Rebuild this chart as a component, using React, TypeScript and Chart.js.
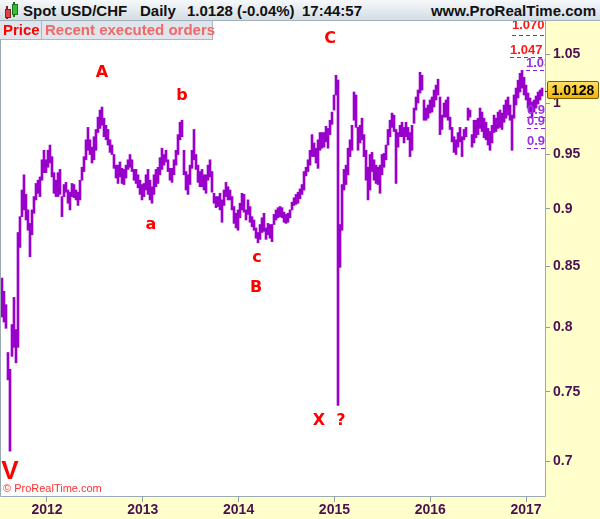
import React, { useEffect, useRef } from "react";
import { Chart, registerables } from "chart.js";

Chart.register(...registerables);

// Weekly high/low ranges of spot USD/CHF (mid-2011 .. Feb 2017)
const START_YEAR = 2011.5303;
const WEEK_STEP = 0.020877;

const lows = [
  0.808, 0.804, 0.799, 0.759, 0.707, 0.777, 0.784, 0.772, 0.784, 0.866,
  0.893, 0.899, 0.890, 0.881, 0.858, 0.877, 0.896, 0.908, 0.914, 0.911,
  0.926, 0.933, 0.933, 0.938, 0.942, 0.929, 0.914, 0.911, 0.911, 0.913,
  0.893, 0.911, 0.915, 0.905, 0.899, 0.911, 0.910, 0.908, 0.903, 0.908,
  0.926, 0.934, 0.945, 0.954, 0.950, 0.942, 0.945, 0.954, 0.971, 0.975,
  0.978, 0.967, 0.964, 0.959, 0.952, 0.950, 0.937, 0.928, 0.923, 0.929,
  0.923, 0.922, 0.928, 0.936, 0.938, 0.934, 0.926, 0.923, 0.919, 0.913,
  0.908, 0.911, 0.917, 0.913, 0.908, 0.905, 0.913, 0.920, 0.923, 0.931,
  0.936, 0.940, 0.943, 0.934, 0.926, 0.924, 0.931, 0.940, 0.950, 0.964,
  0.967, 0.931, 0.917, 0.913, 0.922, 0.937, 0.945, 0.936, 0.924, 0.920,
  0.920, 0.917, 0.914, 0.926, 0.929, 0.915, 0.905, 0.901, 0.902, 0.899,
  0.888, 0.903, 0.911, 0.908, 0.908, 0.899, 0.887, 0.883, 0.881, 0.892,
  0.899, 0.897, 0.890, 0.895, 0.888, 0.884, 0.881, 0.874, 0.870, 0.873,
  0.879, 0.880, 0.873, 0.877, 0.874, 0.871, 0.886, 0.890, 0.892, 0.893,
  0.892, 0.888, 0.887, 0.888, 0.892, 0.899, 0.903, 0.904, 0.905, 0.909,
  0.913, 0.917, 0.930, 0.934, 0.940, 0.948, 0.948, 0.942, 0.937, 0.954,
  0.956, 0.957, 0.962, 0.956, 0.969, 0.979, 0.993, 1.008, 0.740, 0.849,
  0.881, 0.917, 0.922, 0.931, 0.948, 0.954, 0.983, 0.976, 0.954, 0.961,
  0.964, 0.948, 0.926, 0.908, 0.917, 0.934, 0.926, 0.923, 0.922, 0.914,
  0.931, 0.938, 0.945, 0.959, 0.967, 0.976, 0.972, 0.923, 0.957, 0.967,
  0.967, 0.961, 0.967, 0.964, 0.948, 0.954, 0.980, 0.993, 1.000, 1.010,
  1.013, 0.983, 0.983, 0.985, 0.990, 0.991, 0.996, 1.003, 1.008, 0.969,
  0.974, 0.986, 0.986, 0.983, 0.974, 0.962, 0.952, 0.950, 0.957, 0.962,
  0.948, 0.964, 0.967, 0.983, 0.986, 0.957, 0.961, 0.966, 0.969, 0.975,
  0.972, 0.966, 0.964, 0.959, 0.954, 0.961, 0.971, 0.972, 0.975, 0.976,
  0.974, 0.981, 0.985, 0.988, 0.983, 0.954, 0.985, 0.998, 1.005, 1.011,
  1.015, 1.008, 1.003, 0.995, 0.991, 0.985, 0.991, 0.995, 0.999, 1.003, 1.007,
];

const highs = [
  0.840, 0.829, 0.818, 0.780, 0.767, 0.802, 0.824, 0.798, 0.879, 0.893,
  0.917, 0.931, 0.913, 0.899, 0.887, 0.899, 0.911, 0.923, 0.926, 0.929,
  0.945, 0.954, 0.945, 0.954, 0.959, 0.948, 0.933, 0.926, 0.933, 0.936,
  0.911, 0.922, 0.924, 0.917, 0.915, 0.923, 0.922, 0.917, 0.915, 0.926,
  0.938, 0.948, 0.964, 0.976, 0.964, 0.957, 0.967, 0.974, 0.986, 0.993,
  0.996, 0.985, 0.978, 0.974, 0.964, 0.959, 0.950, 0.940, 0.940, 0.943,
  0.937, 0.936, 0.940, 0.945, 0.950, 0.945, 0.936, 0.936, 0.931, 0.926,
  0.922, 0.923, 0.931, 0.936, 0.926, 0.920, 0.931, 0.936, 0.938, 0.947,
  0.956, 0.950, 0.954, 0.945, 0.937, 0.937, 0.945, 0.954, 0.969, 0.981,
  0.983, 0.954, 0.934, 0.931, 0.940, 0.954, 0.974, 0.950, 0.940, 0.934,
  0.936, 0.931, 0.931, 0.940, 0.945, 0.934, 0.914, 0.911, 0.911, 0.914,
  0.908, 0.917, 0.924, 0.920, 0.917, 0.911, 0.902, 0.896, 0.899, 0.905,
  0.914, 0.913, 0.899, 0.908, 0.902, 0.893, 0.890, 0.883, 0.879, 0.886,
  0.892, 0.896, 0.883, 0.887, 0.886, 0.886, 0.895, 0.899, 0.901, 0.902,
  0.901, 0.897, 0.895, 0.896, 0.899, 0.906, 0.910, 0.913, 0.915, 0.918,
  0.922, 0.934, 0.938, 0.945, 0.954, 0.969, 0.961, 0.956, 0.964, 0.971,
  0.971, 0.971, 0.977, 0.975, 0.983, 0.991, 1.008, 1.028, 1.023, 0.886,
  0.922, 0.936, 0.940, 0.956, 0.964, 0.978, 1.011, 1.008, 0.976, 0.978,
  0.985, 0.969, 0.954, 0.938, 0.950, 0.952, 0.945, 0.940, 0.938, 0.940,
  0.950, 0.951, 0.959, 0.974, 0.983, 0.990, 0.988, 0.974, 0.971, 0.978,
  0.981, 0.976, 0.981, 0.976, 0.971, 0.978, 0.995, 1.006, 1.013, 1.031,
  1.028, 1.003, 0.995, 0.998, 1.003, 1.006, 1.013, 1.018, 1.024, 1.006,
  0.988, 1.000, 1.003, 1.006, 0.986, 0.976, 0.967, 0.964, 0.971, 0.976,
  0.967, 0.974, 0.976, 0.995, 0.993, 0.969, 0.983, 0.983, 0.985, 0.995,
  0.991, 0.985, 0.981, 0.975, 0.972, 0.978, 0.988, 0.985, 0.991, 0.993,
  0.990, 0.998, 1.003, 1.006, 0.998, 0.988, 1.008, 1.015, 1.023, 1.030,
  1.033, 1.026, 1.018, 1.010, 1.005, 1.001, 1.003, 1.007, 1.011, 1.013, 1.015,
];

const yearTicks = [2012, 2013, 2014, 2015, 2016, 2017];
const priceTicks = [0.7, 0.75, 0.8, 0.85, 0.9, 0.95, 1, 1.05];
const orderLevels = [1.07, 1.047, 1.033, 0.986, 0.975, 0.956];
const orderLabels = ["1.070", "1.047", "1.033", "0.986", "0.975", "0.956"];
const lastPrice = "1.0128";

const X_MIN = 2011.52;
const X_MAX = 2017.198;
const Y_MIN = 0.6761;
const Y_MAX = 1.0851;

const PURPLE = "#9900cc";
const AXIS_TEXT = "#4e0f4e";
const FONT = '"Liberation Sans", Arial, sans-serif';

const levelStyle = [
  { span: 33, color: "#ff1a1a", lift: 4 },
  { span: 35, color: "#ff1a1a", lift: 1 },
  { span: 19, color: "#9933dd", lift: 1 },
  { span: 18, color: "#9933dd", lift: 1 },
  { span: 18, color: "#9933dd", lift: 1 },
  { span: 18, color: "#9933dd", lift: 1 },
];

const bgPlugin = {
  id: "bgPlugin",
  beforeDraw(chart: any) {
    const { ctx, chartArea, width, height } = chart;
    ctx.save();
    ctx.fillStyle = "#ffffcc";
    ctx.fillRect(0, 0, width, height);
    ctx.fillStyle = "#ffffff";
    ctx.fillRect(chartArea.left, chartArea.top, chartArea.right - chartArea.left, chartArea.bottom - chartArea.top);
    ctx.restore();
  },
  afterDatasetsDraw(chart: any) {
    const { ctx, chartArea, scales } = chart;
    const y = scales.y;
    ctx.save();
    ctx.beginPath();
    ctx.rect(chartArea.left, chartArea.top, chartArea.right - chartArea.left, chartArea.bottom - chartArea.top);
    ctx.clip();
    orderLevels.forEach((v, i) => {
      const py = Math.round(y.getPixelForValue(v)) + 0.5;
      const x0 = chartArea.right - levelStyle[i].span;
      ctx.setLineDash([4, 3]);
      ctx.strokeStyle = "#8a1fd6";
      ctx.lineWidth = 1;
      ctx.beginPath();
      ctx.moveTo(x0, py);
      ctx.lineTo(chartArea.right, py);
      ctx.stroke();
      ctx.setLineDash([]);
      ctx.fillStyle = levelStyle[i].color;
      ctx.font = `bold 13px ${FONT}`;
      ctx.textBaseline = "bottom";
      ctx.textAlign = "left";
      ctx.fillText(orderLabels[i], x0, py - levelStyle[i].lift);
    });
    ctx.restore();
    // frame
    ctx.save();
    ctx.strokeStyle = "#9aaab4";
    ctx.lineWidth = 1;
    ctx.beginPath();
    ctx.moveTo(0.5, chartArea.top);
    ctx.lineTo(0.5, chartArea.bottom + 0.5);
    ctx.lineTo(chartArea.right + 0.5, chartArea.bottom + 0.5);
    ctx.lineTo(chartArea.right + 0.5, chartArea.top);
    ctx.stroke();
    ctx.restore();
  },
};

function Label(props: { x: number; y: number; text: string; size?: number; family?: string }) {
  return (
    <div
      style={{
        position: "absolute",
        left: props.x,
        top: props.y,
        transform: "translate(-50%, -50%)",
        color: "#ff0000",
        fontWeight: "bold",
        fontSize: props.size || 16,
        fontFamily: props.family || '"DejaVu Sans", sans-serif',
        lineHeight: 1,
        whiteSpace: "nowrap",
      }}
    >
      {props.text}
    </div>
  );
}

export default function App() {
  const canvasRef = useRef<HTMLCanvasElement | null>(null);

  useEffect(() => {
    if (!canvasRef.current) return;
    const points = lows.map((lo, i) => ({ x: START_YEAR + i * WEEK_STEP, y: [lo, highs[i]] }));
    const chart = new Chart(canvasRef.current, {
      type: "bar",
      data: {
        datasets: [
          {
            data: points as any,
            backgroundColor: PURPLE,
            borderWidth: 0,
            barThickness: 2,
          },
        ],
      },
      options: {
        animation: false,
        responsive: false,
        events: [],
        layout: { padding: { left: 1, top: 21, right: 0, bottom: 0 } },
        plugins: { legend: { display: false }, tooltip: { enabled: false } },
        scales: {
          x: {
            type: "linear",
            min: X_MIN,
            max: X_MAX,
            offset: false,
            grid: { drawOnChartArea: false, drawTicks: true, tickLength: 6, color: "#8c9ca6", offset: false },
            border: { display: false },
            afterBuildTicks: (scale: any) => {
              scale.ticks = yearTicks.map((v) => ({ value: v }));
            },
            afterFit: (scale: any) => {
              scale.height = 23;
            },
            ticks: {
              autoSkip: false,
              maxRotation: 0,
              padding: 0,
              color: AXIS_TEXT,
              font: { family: FONT, size: 14, weight: "bold" },
              callback: (v: any) => String(v),
            },
          },
          y: {
            type: "logarithmic",
            position: "right",
            min: Y_MIN,
            max: Y_MAX,
            grid: { drawOnChartArea: false, drawTicks: true, tickLength: 5, color: "#8c9ca6" },
            border: { display: false },
            afterBuildTicks: (scale: any) => {
              scale.ticks = priceTicks.map((v) => ({ value: v }));
            },
            afterFit: (scale: any) => {
              scale.width = 55;
            },
            ticks: {
              autoSkip: false,
              padding: 3,
              color: AXIS_TEXT,
              font: { family: FONT, size: 14, weight: "bold" },
              callback: (v: any) => String(Number(v)),
            },
          },
        },
      } as any,
      plugins: [bgPlugin],
    });
    return () => chart.destroy();
  }, []);

  const headerText: React.CSSProperties = {
    position: "absolute",
    top: 2,
    fontFamily: FONT,
    fontWeight: "bold",
    fontSize: 15,
    color: "#111",
    whiteSpace: "nowrap",
    lineHeight: "17px",
  };

  return (
    <div style={{ position: "fixed", left: 0, top: 0, width: 600, height: 519, overflow: "hidden", background: "#fff" }}>
      <canvas ref={canvasRef} width={600} height={519} style={{ position: "absolute", left: 0, top: 0, width: 600, height: 519 }} />
      {/* header */}
      <div
        style={{
          position: "absolute",
          left: 0,
          top: 0,
          width: 600,
          height: 20,
          background: "linear-gradient(#f6f9fb, #d3dde3)",
          borderBottom: "1px solid #9fb0ba",
        }}
      >
        <div style={{ position: "absolute", left: 6, top: 6, width: 2, height: 13, background: "#802020" }} />
        <div style={{ position: "absolute", left: 5, top: 9, width: 4, height: 7, background: "#e04040", border: "1px solid #802020" }} />
        <div style={{ position: "absolute", left: 13, top: 2, width: 2, height: 15, background: "#207020" }} />
        <div style={{ position: "absolute", left: 12, top: 4, width: 4, height: 9, background: "#30c030", border: "1px solid #207020" }} />
        <span style={{ ...headerText, left: 23 }}>Spot USD/CHF</span>
        <span style={{ ...headerText, left: 140 }}>Daily</span>
        <span style={{ ...headerText, left: 187 }}>1.0128 (-0.04%)</span>
        <span style={{ ...headerText, left: 302 }}>17:44:57</span>
        <span style={{ ...headerText, right: 4 }}>www.ProRealTime.com</span>
      </div>
      {/* tabs */}
      <div
        style={{
          position: "absolute",
          left: 0,
          top: 21,
          width: 212,
          height: 18,
          background: "#dfe5ea",
          borderBottom: "1px solid #a9b8c1",
          borderRight: "1px solid #a9b8c1",
          fontFamily: FONT,
          fontWeight: "bold",
          fontSize: 15,
          lineHeight: "18px",
          whiteSpace: "nowrap",
        }}
      >
        <span style={{ position: "absolute", left: 3, top: 0, color: "#ff0000" }}>Price</span>
        <div style={{ position: "absolute", left: 41, top: 0, width: 1, height: 18, background: "#a9b8c1" }} />
        <span style={{ position: "absolute", left: 45, top: 0, color: "#f06868" }}>Recent executed orders</span>
      </div>
      {/* wave annotations */}
      <Label x={102} y={72} text="A" />
      <Label x={182} y={95} text="b" />
      <Label x={151} y={224} text="a" />
      <Label x={257} y={257} text="c" />
      <Label x={256} y={287} text="B" />
      <Label x={330} y={38} text="C" />
      <Label x={319} y={420} text="X" />
      <Label x={341} y={420} text="?" />
      <Label x={10} y={470} text="V" size={26} family={FONT} />
      <div
        style={{
          position: "absolute",
          left: 3,
          top: 482,
          color: "#ff3030",
          fontFamily: FONT,
          fontSize: 11,
          lineHeight: "12px",
          whiteSpace: "nowrap",
        }}
      >
        © ProRealTime.com
      </div>
      {/* last price box */}
      <div style={{ position: "absolute", left: 545, top: 91, width: 4, height: 1, background: "#333" }} />
      <div
        style={{
          position: "absolute",
          left: 547,
          top: 81,
          width: 50,
          height: 16,
          background: "linear-gradient(#ffe066, #f5b400)",
          border: "1px solid #7a5a00",
          borderRadius: 2,
          color: "#000",
          fontFamily: FONT,
          fontWeight: "bold",
          fontSize: 14,
          lineHeight: "16px",
          textAlign: "center",
        }}
      >
        {lastPrice}
      </div>
    </div>
  );
}
